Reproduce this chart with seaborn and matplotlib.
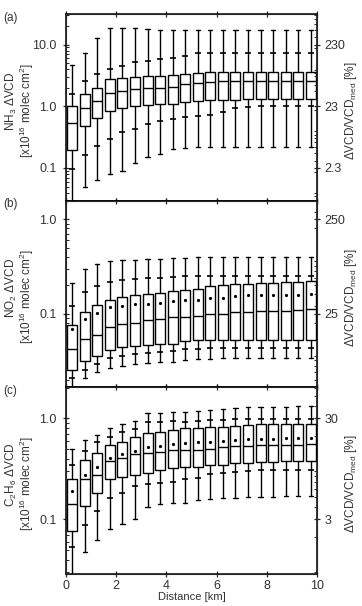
import numpy as np
import matplotlib
matplotlib.use("Agg")
import matplotlib.pyplot as plt
import matplotlib.ticker as mticker
import seaborn as sns

# distance bin centres [km]
distance = [0.25, 0.75, 1.25, 1.75, 2.25, 2.75, 3.25, 3.75, 4.25, 4.75,
            5.25, 5.75, 6.25, 6.75, 7.25, 7.75, 8.25, 8.75, 9.25, 9.75]

# (a) NH3
nh3_med = [0.53, 0.92, 1.2, 1.65, 1.78, 1.87, 1.97, 2.0, 2.07, 2.28,
           2.34, 2.5, 2.52, 2.55, 2.57, 2.58, 2.6, 2.6, 2.6, 2.6]
nh3_q3 = [1.0, 1.55, 2.0, 2.75, 2.9, 3.0, 3.1, 3.1, 3.15, 3.3,
          3.4, 3.55, 3.6, 3.6, 3.6, 3.6, 3.6, 3.6, 3.6, 3.6]
nh3_q1 = [0.196, 0.47, 0.65, 0.84, 0.95, 1.0, 1.06, 1.1, 1.1, 1.18,
          1.2, 1.25, 1.28, 1.28, 1.3, 1.3, 1.3, 1.3, 1.3, 1.3]
nh3_hicap = [4.6, 7.4, 12.6, 18.3, 18.3, 18.3, 18.0, 17.5, 17.2, 16.9,
             16.9, 16.9, 16.9, 16.9, 16.9, 16.9, 16.9, 16.9, 16.9, 16.9]
nh3_hitick = [1.6, 2.55, 3.3, 4.0, 4.5, 5.2, 5.5, 5.8, 6.0, 6.4,
              7.2, 7.4, 7.4, 7.4, 7.4, 7.4, 7.4, 7.4, 7.4, 7.4]
nh3_lotick = [0.096, 0.16, 0.225, 0.30, 0.38, 0.43, 0.51, 0.58, 0.63, 0.67,
              0.70, 0.72, 0.80, 0.95, 0.97, 1.0, 1.0, 1.0, 1.0, 1.0]
nh3_locap = [0.02, 0.05, 0.064, 0.08, 0.088, 0.12, 0.15, 0.17, 0.2, 0.21,
             0.22, 0.22, 0.22, 0.22, 0.22, 0.22, 0.22, 0.22, 0.22, 0.22]

# (b) NO2
no2_med = [0.042, 0.0537, 0.0597, 0.073, 0.077, 0.080, 0.0858, 0.0886, 0.092, 0.093,
           0.094, 0.1, 0.1, 0.104, 0.105, 0.106, 0.107, 0.108, 0.109, 0.111]
no2_q3 = [0.075, 0.104, 0.125, 0.138, 0.15, 0.157, 0.162, 0.165, 0.173, 0.18,
          0.183, 0.195, 0.203, 0.207, 0.207, 0.209, 0.212, 0.216, 0.217, 0.221]
no2_q1 = [0.0255, 0.0317, 0.0353, 0.0415, 0.0439, 0.0453, 0.046, 0.0476, 0.048, 0.0507,
          0.052, 0.0525, 0.0525, 0.0525, 0.053, 0.053, 0.053, 0.053, 0.053, 0.053]
no2_mean = [0.0695, 0.087, 0.1025, 0.117, 0.122, 0.127, 0.128, 0.130, 0.136, 0.138,
            0.140, 0.145, 0.148, 0.153, 0.156, 0.156, 0.158, 0.158, 0.159, 0.16]
no2_hicap = [0.212, 0.297, 0.336, 0.365, 0.37, 0.375, 0.38, 0.38, 0.385, 0.39,
             0.4, 0.4, 0.4, 0.4, 0.4, 0.4, 0.4, 0.4, 0.4, 0.4]
no2_hitick = [0.12, 0.17, 0.195, 0.215, 0.23, 0.235, 0.24, 0.24, 0.245, 0.25,
              0.253, 0.253, 0.253, 0.253, 0.253, 0.253, 0.253, 0.253, 0.253, 0.253]
no2_lotick = [0.021, 0.0255, 0.0293, 0.034, 0.0358, 0.037, 0.038, 0.039, 0.04, 0.042,
              0.042, 0.043, 0.043, 0.043, 0.043, 0.043, 0.043, 0.043, 0.043, 0.043]
no2_locap = [0.012, 0.021, 0.024, 0.0265, 0.028, 0.029, 0.030, 0.031, 0.031, 0.032,
             0.033, 0.033, 0.034, 0.034, 0.034, 0.034, 0.034, 0.034, 0.034, 0.034]

# (c) C2H6
c2h6_med = [0.143, 0.25, 0.273, 0.38, 0.41, 0.442, 0.459, 0.47, 0.484, 0.484,
            0.484, 0.503, 0.515, 0.527, 0.535, 0.54, 0.54, 0.545, 0.55, 0.556]
c2h6_q3 = [0.25, 0.389, 0.459, 0.543, 0.59, 0.657, 0.71, 0.737, 0.772, 0.795,
           0.8, 0.83, 0.83, 0.845, 0.86, 0.878, 0.878, 0.878, 0.878, 0.878]
c2h6_q1 = [0.0765, 0.136, 0.184, 0.254, 0.266, 0.278, 0.29, 0.309, 0.321, 0.333,
           0.333, 0.342, 0.345, 0.365, 0.365, 0.37, 0.37, 0.375, 0.375, 0.38]
c2h6_mean = [0.191, 0.278, 0.333, 0.403, 0.442, 0.477, 0.515, 0.535, 0.556, 0.569,
             0.58, 0.59, 0.6, 0.614, 0.623, 0.63, 0.63, 0.635, 0.638, 0.638]
c2h6_hicap = [0.496, 0.614, 0.688, 0.795, 0.878, 0.933, 1.12, 1.12, 1.15, 1.15,
              1.17, 1.2, 1.23, 1.27, 1.3, 1.3, 1.3, 1.3, 1.32, 1.32]
c2h6_hitick = [0.344, 0.477, 0.577, 0.657, 0.726, 0.784, 0.913, 0.93, 0.94, 0.927,
               0.95, 0.97, 0.97, 0.98, 0.98, 0.98, 0.98, 0.98, 0.98, 0.98]
c2h6_lotick = [0.0537, 0.089, 0.121, 0.164, 0.181, 0.214, 0.222, 0.228, 0.235, 0.254,
               0.26, 0.28, 0.29, 0.295, 0.30, 0.31, 0.31, 0.31, 0.31, 0.31]
c2h6_locap = [0.02, 0.048, 0.063, 0.08, 0.091, 0.1, 0.134, 0.143, 0.146, 0.146,
              0.155, 0.16, 0.163, 0.163, 0.165, 0.165, 0.168, 0.17, 0.17, 0.17]

# axis settings per panel
panels = [
    dict(tag="(a)", name="NH$_3$", med=nh3_med, q1=nh3_q1, q3=nh3_q3, mean=None,
         hicap=nh3_hicap, hitick=nh3_hitick, lotick=nh3_lotick, locap=nh3_locap,
         ylim=(0.0296, 31.3), yticks=[0.1, 1.0, 10.0], ylabels=["0.1", "1.0", "10.0"],
         factor=23, rticks=[2.3, 23, 230], rlabels=["2.3", "23", "230"]),
    dict(tag="(b)", name="NO$_2$", med=no2_med, q1=no2_q1, q3=no2_q3, mean=no2_mean,
         hicap=no2_hicap, hitick=no2_hitick, lotick=no2_lotick, locap=no2_locap,
         ylim=(0.0166, 1.58), yticks=[0.1, 1.0], ylabels=["0.1", "1.0"],
         factor=250, rticks=[25, 250], rlabels=["25", "250"]),
    dict(tag="(c)", name="C$_2$H$_6$", med=c2h6_med, q1=c2h6_q1, q3=c2h6_q3, mean=c2h6_mean,
         hicap=c2h6_hicap, hitick=c2h6_hitick, lotick=c2h6_lotick, locap=c2h6_locap,
         ylim=(0.029, 2.03), yticks=[0.1, 1.0], ylabels=["0.1", "1.0"],
         factor=30, rticks=[3, 30], rlabels=["3", "30"]),
]

sns.set_style("ticks")
plt.rcParams["font.family"] = ["Liberation Sans", "DejaVu Sans"]
plt.rcParams["mathtext.fontset"] = "custom"
plt.rcParams["mathtext.rm"] = "Liberation Sans"
plt.rcParams["mathtext.it"] = "Liberation Sans"

W, H = 362, 606
fig = plt.figure(figsize=(W / 100, H / 100), dpi=100)
gs = fig.add_gridspec(3, 1, left=0.182, right=0.876, top=0.977, bottom=0.053, hspace=0)

lw = 1.0
label_color = "#333333"
for i, p in enumerate(panels):
    ax = fig.add_subplot(gs[i])
    stats = []
    for j in range(len(distance)):
        s = dict(med=p["med"][j], q1=p["q1"][j], q3=p["q3"][j],
                 whislo=p["locap"][j], whishi=p["hicap"][j], fliers=[])
        if p["mean"] is not None:
            s["mean"] = p["mean"][j]
        stats.append(s)
    ax.bxp(stats, positions=distance, widths=0.4, capwidths=0.17,
           showmeans=p["mean"] is not None, showfliers=False, patch_artist=True,
           boxprops=dict(facecolor="white", edgecolor="black", linewidth=lw),
           medianprops=dict(color="black", linewidth=lw),
           whiskerprops=dict(color="black", linewidth=lw),
           capprops=dict(color="black", linewidth=lw),
           meanprops=dict(marker="o", markersize=1.3, markerfacecolor="black",
                          markeredgecolor="black"),
           manage_ticks=False)

    # intermediate percentile marks on the whiskers
    for key in ("hitick", "lotick"):
        sns.scatterplot(x=distance, y=p[key], marker="_", s=22, color="black",
                        linewidth=1.2, ax=ax, zorder=4, legend=False)

    ax.set_yscale("log")
    ax.set_ylim(*p["ylim"])
    ax.set_xlim(0, 10)
    ax.set_xticks([0, 2, 4, 6, 8, 10])
    ax.set_yticks(p["yticks"])
    ax.set_yticklabels(p["ylabels"])
    ax.yaxis.set_minor_locator(mticker.LogLocator(base=10, subs=np.arange(2, 10)))
    ax.yaxis.set_minor_formatter(mticker.NullFormatter())
    ax.tick_params(axis="both", which="major", direction="inout", length=5,
                   width=0.9, labelsize=9, top=True, right=False,
                   labelcolor=label_color)
    ax.tick_params(axis="y", which="minor", direction="in", length=2.5, width=0.7)
    ax.tick_params(axis="y", pad=4)
    ax.tick_params(axis="x", pad=2)
    for sp in ax.spines.values():
        sp.set_linewidth(1.1)
        sp.set_color("black")

    if i < 2:
        ax.set_xticklabels([])
        ax.set_xlabel("")
    else:
        ax.set_xlabel("Distance [km]", fontsize=8, labelpad=0, color=label_color)
    ax.set_ylabel("")

    # relative scale on the right side
    ax2 = ax.twinx()
    ax2.set_yscale("log")
    lo, hi = p["ylim"]
    ax2.set_ylim(lo * p["factor"], hi * p["factor"])
    ax2.set_yticks(p["rticks"])
    ax2.set_yticklabels(p["rlabels"])
    ax2.yaxis.set_minor_locator(mticker.LogLocator(base=10, subs=np.arange(2, 10)))
    ax2.yaxis.set_minor_formatter(mticker.NullFormatter())
    ax2.tick_params(axis="y", which="major", direction="inout", length=5, width=0.9,
                    labelsize=9, pad=3, labelcolor=label_color)
    ax2.tick_params(axis="y", which="minor", direction="in", length=2.5, width=0.7)

    # axis titles placed by hand so they fit the narrow figure
    pos = ax.get_position()
    yc = (pos.y0 + pos.y1) / 2
    fig.text(11 / W, yc + 0.01, p["name"] + " ΔVCD", rotation=90, fontsize=8.5,
             ha="center", va="center", color=label_color)
    fig.text(27 / W, yc - 0.005, "[x10$^{16}$ molec cm$^{2}$]", rotation=90, fontsize=8.5,
             ha="center", va="center", color=label_color)
    fig.text(351 / W, yc - 0.006, "ΔVCD/VCD$_{med}$ [%]", rotation=90, fontsize=8.5,
             ha="center", va="center", color=label_color)
    fig.text(3 / W, pos.y1 - 0.006, p["tag"], fontsize=8.5, va="center",
             color=label_color)

fig.savefig("out.png", dpi=100)
